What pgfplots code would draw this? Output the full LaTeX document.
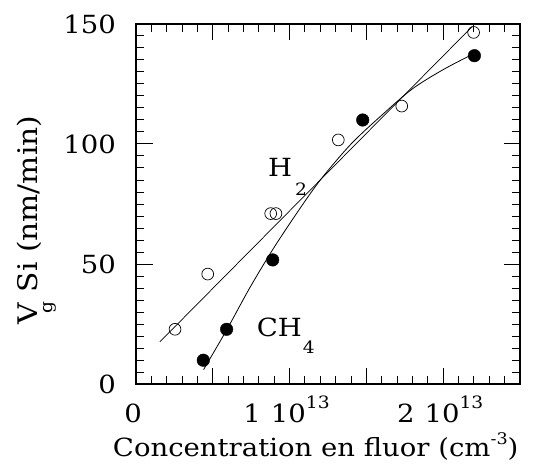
\documentclass[border=0pt]{standalone}
\usepackage{pgfplots}
\pgfplotsset{compat=1.18}
\usepackage{fontspec}
\setmainfont{DejaVu Serif}[FakeStretch=1.1]
\begin{document}
\fontsize{25}{29}\selectfont
\begin{tikzpicture}
\useasboundingbox (-136pt,-79pt) rectangle (398pt,384pt);
\begin{axis}[
  at={(0,0)}, anchor=south west,
  scale only axis, width=384pt, height=360pt,
  xmin=0, xmax=2.5, ymin=0, ymax=150,
  xtick={0,0.5,1,1.5,2,2.5}, minor x tick num=4,
  ytick={0,50,100,150}, minor y tick num=9,
  xticklabels={0,,1\hspace{0.4em}10\raisebox{14pt}{\fontsize{17}{17}\selectfont 13},,2\hspace{0.4em}10\raisebox{14pt}{\fontsize{17}{17}\selectfont 13},},
  tick align=inside, major tick length=16.5pt, minor tick length=8.3pt,
  tick style={line width=1pt, black},
  axis line style={line width=1.6pt},
  /pgf/number format/assume math mode=true,
  xticklabel style={anchor=base, inner sep=0pt, yshift=-38pt, xshift=-3pt},
  yticklabel style={anchor=east, inner sep=0pt, xshift=-20pt},
  xlabel={Concentration en fluor (cm\raisebox{12pt}{\fontsize{16}{16}\selectfont -3})},
  xlabel style={at={(axis description cs:0.468,-0.2019)}, anchor=base, inner sep=0pt},
  ylabel={V\llap{\raisebox{-15pt}{\fontsize{17}{17}\selectfont g}\hspace{-2pt}}\hspace{11pt}Si (nm/min)},
  ylabel style={at={(axis description cs:-0.2578,0.455)}, anchor=base, inner sep=0pt, font=\fontsize{27}{31}\selectfont},
]
\addplot[black, line width=0.7pt] coordinates {(0.156,17.6) (2.19,149)};
\addplot[black, line width=0.8pt, smooth] coordinates {
(0.44,6) (0.59,22.5) (0.74,40) (0.89,56) (1.05,71.5) (1.2,85) (1.4,100) (1.6,112) (1.8,123) (2.0,131) (2.18,137)};
\addplot[only marks, mark=o, mark size=5.9pt, mark options={line width=0.7pt, fill=white, draw=black}] coordinates {
(0.254,22.8) (0.467,45.8) (0.877,71) (0.911,71) (1.317,101.7) (1.730,115.8) (2.198,146.5)};
\addplot[only marks, mark=*, mark size=6.3pt, black] coordinates {
(0.438,9.9) (0.590,22.8) (0.89,51.7) (1.476,110) (2.203,136.8)};
\node[anchor=base west, inner sep=0pt] at (axis cs:0.859,86.25) {H\hspace{3pt}\raisebox{-18pt}{\fontsize{17}{17}\selectfont 2}};
\node[anchor=base west, inner sep=0pt] at (axis cs:0.786,19.7) {CH\hspace{1pt}\raisebox{-16.6pt}{\fontsize{17}{17}\selectfont 4}};
\end{axis}
\end{tikzpicture}
\end{document}
